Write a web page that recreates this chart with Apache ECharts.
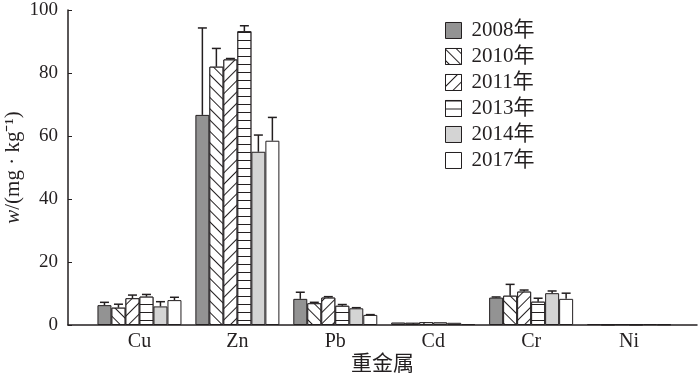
<!DOCTYPE html>
<html>
<head>
<meta charset="utf-8">
<script src="https://cdn.jsdelivr.net/npm/echarts@6/dist/echarts.min.js"></script>
<style>
  html, body { margin: 0; padding: 0; background: #fff; }
  #chart-box { width: 700px; height: 374px; }
</style>
</head>
<body>
<div id="chart-box"></div>
<script>
const categories = ['Cu', 'Zn', 'Pb', 'Cd', 'Cr', 'Ni'];
const years = ['2008年', '2010年', '2011年', '2013年', '2014年', '2017年'];
const yTicks = [0, 20, 40, 60, 80, 100];

// bar heights
const v2008 = [6.3, 66.7, 8.3, 0.8, 8.7, 0.3];
const v2010 = [5.5, 82.0, 6.9, 0.7, 9.3, 0.2];
const v2011 = [8.5, 84.3, 8.7, 0.9, 10.6, 0.3];
const v2013 = [9.0, 93.3, 6.1, 0.8, 7.4, 0.2];
const v2014 = [5.9, 55.0, 5.3, 0.7, 10.1, 0.3];
const v2017 = [7.9, 58.5, 3.2, 0.3, 8.3, 0.2];

// upper error
const e2008 = [0.9, 27.6, 2.1, 0, 0.2, 0];
const e2010 = [1.1, 5.8, 0.3, 0, 3.6, 0];
const e2011 = [1.0, 0.3, 0.3, 0, 0.5, 0];
const e2013 = [0.7, 1.7, 0.4, 0, 1.1, 0];
const e2014 = [1.5, 5.3, 0.2, 0, 0.7, 0];
const e2017 = [0.9, 7.4, 0.1, 0, 1.8, 0];

const values = [v2008, v2010, v2011, v2013, v2014, v2017];
const errors = [e2008, e2010, e2011, e2013, e2014, e2017];

const serif = '"Liberation Serif", "Noto Sans CJK SC", serif';
const ink = '#231f20';
const barW = 14;

function stripes(rot) {
  return {
    symbol: 'rect',
    symbolSize: 1,
    dashArrayX: [1, 0],
    dashArrayY: [1, 7],
    rotation: rot,
    color: ink,
    backgroundColor: '#fff'
  };
}

const fills = [
  { color: '#939393' },
  { color: '#fff', decal: stripes(Math.PI / 4) },
  { color: '#fff', decal: stripes(-Math.PI / 4) },
  { color: '#fff', decal: stripes(0) },
  { color: '#d4d4d4' },
  { color: '#fff' }
];

const barSeries = years.map((name, i) => ({
  name: name,
  type: 'bar',
  xAxisIndex: 1,
  yAxisIndex: 1,
  barWidth: barW,
  barGap: '0%',
  data: values[i],
  itemStyle: Object.assign({ borderColor: ink, borderWidth: 1 }, fills[i])
}));

const errSeries = years.map((name, i) => ({
  name: 'err' + i,
  type: 'custom',
  xAxisIndex: 1,
  yAxisIndex: 1,
  z: 5,
  data: values[i].map((v, k) => [k, v, errors[i][k]]),
  renderItem: (params, api) => {
    const err = api.value(2);
    if (!err) return null;
    const base = api.coord([api.value(0), api.value(1)]);
    const top = api.coord([api.value(0), api.value(1) + err]);
    const x = base[0] - 3 * barW + (i + 0.5) * barW;
    return {
      type: 'group',
      children: [
        { type: 'line', shape: { x1: x, y1: base[1], x2: x, y2: top[1] }, style: { stroke: ink, lineWidth: 1.5 } },
        { type: 'line', shape: { x1: x - 4.5, y1: top[1], x2: x + 4.5, y2: top[1] }, style: { stroke: ink, lineWidth: 1.5 } }
      ]
    };
  }
}));

const options = {
  animation: false,
  backgroundColor: '#fff',
  textStyle: { fontFamily: serif, color: ink },
  legend: {
    data: years.map(n => ({ name: n, icon: 'rect' })),
    orient: 'vertical',
    left: 445,
    top: 20,
    padding: 0,
    itemWidth: 16,
    itemHeight: 16,
    itemGap: 5,
    selectedMode: false,
    itemStyle: { borderColor: ink, borderWidth: 1 },
    textStyle: { fontFamily: serif, fontSize: 21, color: ink, padding: [0, 0, 0, 5] }
  },
  grid: [
    { left: 68, right: 3, top: 10, bottom: 49, outerBoundsMode: 'none' },
    { left: 90.5, right: 22, top: 10, bottom: 49, outerBoundsMode: 'none' }
  ],
  xAxis: [
    {
      type: 'value',
      gridIndex: 0,
      min: 0,
      max: 1,
      name: '重金属',
      nameLocation: 'middle',
      nameGap: 29,
      nameTextStyle: { fontFamily: serif, fontSize: 21, color: ink },
      axisLine: { lineStyle: { color: ink, width: 1.5 } },
      axisTick: { show: false },
      axisLabel: { show: false },
      splitLine: { show: false }
    },
    {
      type: 'category',
      gridIndex: 1,
      data: categories,
      axisLine: { show: false },
      axisTick: { show: false },
      axisLabel: { fontFamily: serif, fontSize: 20, color: ink, margin: 7 }
    }
  ],
  yAxis: [
    {
      type: 'value',
      gridIndex: 0,
      min: yTicks[0],
      max: yTicks[yTicks.length - 1],
      interval: 20,
      name: '{i|w}/(mg · kg⁻¹)',
      nameLocation: 'middle',
      nameGap: 44,
      nameMoveOverlap: false,
      nameTextStyle: {
        fontFamily: serif, fontSize: 21, color: ink,
        rich: { i: { fontFamily: serif, fontSize: 21, fontStyle: 'italic', color: ink } }
      },
      axisLine: { show: true, lineStyle: { color: ink, width: 1.5 } },
      axisTick: { show: true, inside: true, length: 4, lineStyle: { color: ink } },
      axisLabel: { fontFamily: serif, fontSize: 19, color: ink, margin: 10 },
      splitLine: { show: false }
    },
    {
      type: 'value',
      gridIndex: 1,
      min: 0,
      max: 100,
      show: false,
      splitLine: { show: false }
    }
  ],
  series: barSeries.concat(errSeries)
};

const chart = echarts.init(document.getElementById('chart-box'));
chart.setOption(options);
</script>
</body>
</html>
